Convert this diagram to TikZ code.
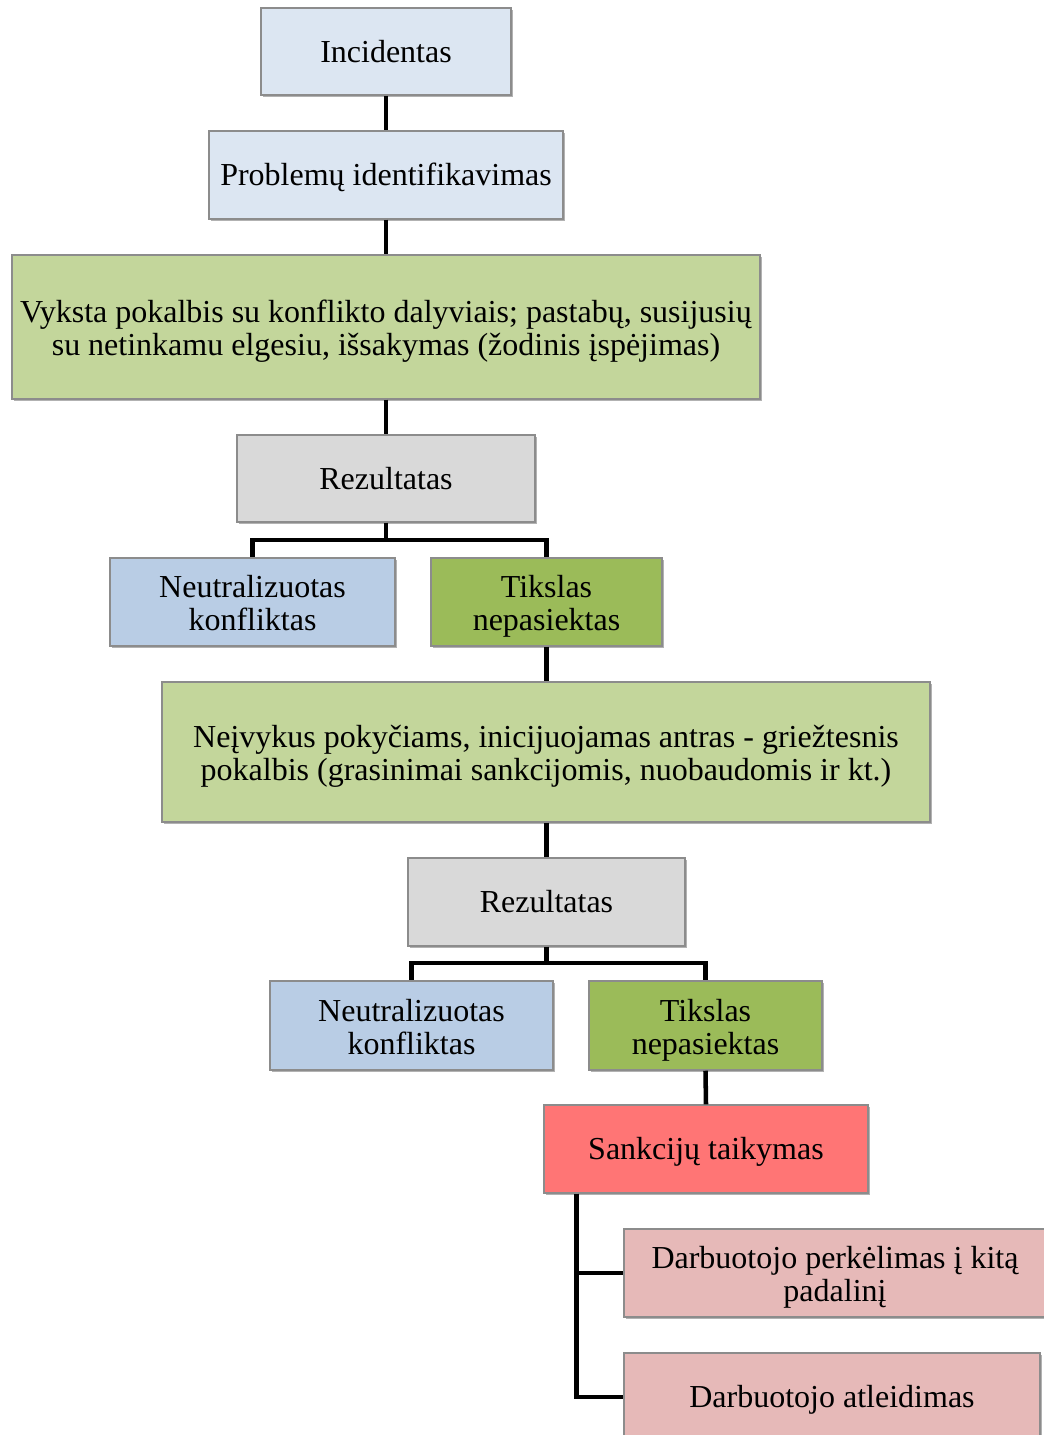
\documentclass[tikz,border=0pt]{standalone}
\usepackage{fontspec}
\setmainfont{Liberation Serif}
\usetikzlibrary{shadows,calc}

\definecolor{paleblue}{HTML}{DCE6F2}
\definecolor{palegreen}{HTML}{C3D69B}
\definecolor{midgray}{HTML}{D9D9D9}
\definecolor{softblue}{HTML}{B9CDE5}
\definecolor{olivegreen}{HTML}{9BBB59}
\definecolor{salmonred}{HTML}{FF7575}
\definecolor{dustypink}{HTML}{E6B9B8}
\definecolor{boxedge}{HTML}{8C8C8C}

% struts giving the top line a fixed height and the bottom line a fixed depth
\newcommand\topstrut{\rule{0pt}{22pt}}
\newcommand\tallstrut{\rule{0pt}{24.5pt}}
\newcommand\footstrut{\rule[-6.1pt]{0pt}{6.1pt}}

\tikzset{
  box/.style={draw=boxedge, line width=1.1pt, inner sep=0pt, align=center,
    font=\fontsize{24}{24.75}\selectfont,
    drop shadow={shadow xshift=1.8pt, shadow yshift=-1.8pt, opacity=0.3, fill=black}},
  link/.style={line width=3.4pt, black}
}

\begin{document}
\begin{tikzpicture}[x=0.75pt,y=-0.75pt]
\useasboundingbox (0,0) rectangle (1043,1435);

% main chain
\node[box, fill=paleblue, minimum width=187.5pt, minimum height=65.25pt] (inc) at (386,51.5) {\topstrut Incidentas\footstrut};
\node[box, fill=paleblue, minimum width=265.5pt, minimum height=66pt] (ident) at (386,175) {\topstrut Problemų identifikavimas\footstrut};
\node[box, fill=palegreen, minimum width=561pt, minimum height=108pt] (talk1) at (386,327)
  {\tallstrut Vyksta pokalbis su konflikto dalyviais; pastabų, susijusių\\su netinkamu elgesiu, išsakymas (žodinis įspėjimas)\footstrut};
\node[box, fill=midgray, minimum width=223.5pt, minimum height=65.25pt] (res1) at (386,478.5) {\topstrut Rezultatas\footstrut};
\node[box, fill=softblue, minimum width=213.75pt, minimum height=66pt] (neut1) at (252.5,602) {\tallstrut Neutralizuotas\\konfliktas\footstrut};
\node[box, fill=olivegreen, minimum width=173.25pt, minimum height=66pt] (fail1) at (546.5,602) {\tallstrut Tikslas\\nepasiektas\footstrut};
\node[box, fill=palegreen, minimum width=576pt, minimum height=105pt] (talk2) at (546,752)
  {\tallstrut Neįvykus pokyčiams, inicijuojamas antras - griežtesnis\\pokalbis (grasinimai sankcijomis, nuobaudomis ir kt.)\footstrut};
\node[box, fill=midgray, minimum width=207.75pt, minimum height=66pt] (res2) at (546.5,902) {\topstrut Rezultatas\footstrut};
\node[box, fill=softblue, minimum width=212.25pt, minimum height=66.75pt] (neut2) at (411.5,1025.5) {\tallstrut Neutralizuotas\\konfliktas\footstrut};
\node[box, fill=olivegreen, minimum width=174.75pt, minimum height=66.75pt] (fail2) at (705.5,1025.5) {\tallstrut Tikslas\\nepasiektas\footstrut};
\node[box, fill=salmonred, minimum width=243pt, minimum height=66pt] (sanc) at (706,1149) {\topstrut Sankcijų taikymas\footstrut};
\node[box, fill=dustypink, minimum width=316.5pt, minimum height=66pt] (move) at (835,1273) {\tallstrut Darbuotojo perkėlimas į kitą\\padalinį\footstrut};
\node[box, fill=dustypink, minimum width=312pt, minimum height=66pt] (fire) at (832,1397) {\topstrut Darbuotojo atleidimas\footstrut};

% branch points
\coordinate (fork1) at (386,540);
\coordinate (fork2) at (546.5,963);
\coordinate (rail) at ($(sanc.south west)+(33,0)$);

% connectors
\draw[link] (inc.south) -- (ident.north);
\draw[link] (ident.south) -- (talk1.north);
\draw[link] (talk1.south) -- (res1.north);
\draw[link] (res1.south) -- (fork1);
\draw[link] (fork1) -| (neut1.north);
\draw[link] (fork1) -| (fail1.north);
\draw[link] (fail1.south) -- (fail1.south |- talk2.north);
\draw[link] (talk2.south -| res2.north) -- (res2.north);
\draw[link] (res2.south) -- (fork2);
\draw[link] (fork2) -| (neut2.north);
\draw[link] (fork2) -| (fail2.north);
\draw[link] (fail2.south) -- (sanc.north);
\draw[link] (rail) |- (move.west);
\draw[link] (rail) |- (fire.west);
\end{tikzpicture}
\end{document}
